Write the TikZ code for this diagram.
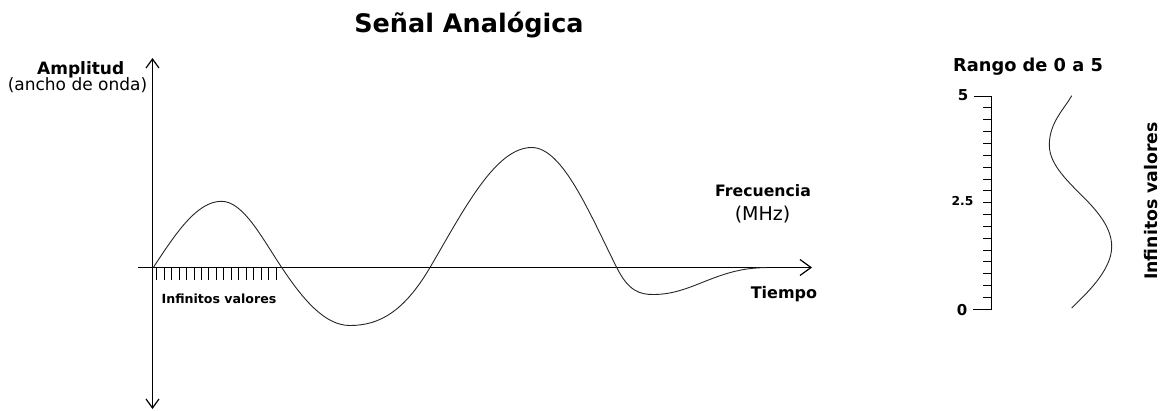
\documentclass[tikz,border=0pt]{standalone}
\usepackage{fontspec}
\setmainfont{DejaVu Sans}
\usetikzlibrary{arrows.meta}

\begin{document}
\begin{tikzpicture}[x=1pt,y=-1pt,>={Straight Barb[length=9pt,width=13pt]}]
  \tikzset{
    boldlabel/.style={font=\bfseries\fontsize{17}{19}\selectfont,inner sep=0pt,anchor=base},
    plainlabel/.style={font=\fontsize{17}{19}\selectfont,inner sep=0pt,anchor=base},
    smalllabel/.style={font=\bfseries\fontsize{12.6}{14}\selectfont,inner sep=0pt,anchor=base},
    axisline/.style={line width=1.2pt},
    waveline/.style={line width=0.9pt,black!85}
  }
  \useasboundingbox (0,0) rectangle (1167,410);

  % title
  \node[boldlabel,font=\bfseries\fontsize{25.5}{28}\selectfont] (title) at (469,32) {Señal Analógica};

  % axes
  \coordinate (ytop) at (152.5,58);
  \coordinate (ybot) at (152.5,409);
  \coordinate (xleft) at (138,267.5);
  \coordinate (xright) at (812,267.5);
  \draw[axisline,<->] (ybot) -- (ytop);
  \draw[axisline,->,>={Straight Barb[length=11pt,width=16pt]}] (xleft) -- (xright);
  \foreach \i in {0,...,16}
    \draw[line width=0.8pt] (156.7+7.45*\i,267.5) -- ++(0,12);

  \node[boldlabel] (amp) at (80.7,74.3) {Amplitud};
  \node[plainlabel] (ampsub) at (77.5,90.5) {(ancho de onda)};
  \node[smalllabel] (infx) at (219,303) {Infinitos valores};
  \node[boldlabel,font=\bfseries\fontsize{15.7}{18}\selectfont] (freq) at (763,196.7) {Frecuencia};
  \node[plainlabel,font=\fontsize{19}{21}\selectfont] (freqsub) at (762.5,220.7) {(MHz)};
  \node[boldlabel,font=\bfseries\fontsize{16}{18}\selectfont] (tiempo) at (784,298.3) {Tiempo};

  % signal
  \draw[waveline] (153.3,267.5)
    .. controls (175.5,233.7) and (196.8,201.3) .. (221.5,201.3)
    .. controls (243.3,201.3) and (262.1,238.1) .. (281.7,267.5)
    .. controls (304,300.9) and (325.3,325.5) .. (350,325.5)
    .. controls (379,325.5) and (403.9,311.9) .. (430,267.5)
    .. controls (463.2,211.1) and (494.9,147.5) .. (531.7,147.5)
    .. controls (562.5,147.5) and (589,212.1) .. (616.7,267.5)
    .. controls (628.6,291.4) and (640,294.5) .. (653.3,294.5)
    .. controls (693,294.5) and (715.7,267.6) .. (766.7,267.6);

  % range scale
  \node[boldlabel,font=\bfseries\fontsize{17.8}{20}\selectfont] (rango) at (1028,71.7) {Rango de 0 a 5};
  \coordinate (stop) at (991.5,96);
  \coordinate (sbot) at (991.5,309.3);
  \draw[line width=1pt] (sbot) -- (stop);
  \draw[line width=1pt] (stop) -- ++(-18,0);
  \draw[line width=1pt] (sbot) -- ++(-18.5,0);
  \foreach \i in {1,...,17}
    \draw[line width=0.9pt] (991.5,96+11.85*\i) -- ++(-8.5,0);
  \node[boldlabel,font=\bfseries\fontsize{15}{17}\selectfont] (five) at (963,100) {5};
  \node[boldlabel,font=\bfseries\fontsize{12.3}{14}\selectfont] (half) at (962.5,205.7) {2.5};
  \node[boldlabel,font=\bfseries\fontsize{15}{17}\selectfont] (zero) at (962,315) {0};

  \draw[waveline] (1071.7,95.7)
    .. controls (1063.7,109.7) and (1049.3,122.8) .. (1049.3,145)
    .. controls (1049.3,163.7) and (1066.1,179.8) .. (1083,196.7)
    .. controls (1099.3,213) and (1111.7,228.6) .. (1111.7,246.7)
    .. controls (1111.7,271.2) and (1083.7,296) .. (1071.7,308);
  \node[boldlabel,font=\bfseries\fontsize{17.3}{19}\selectfont,rotate=90] (infy) at (1157,201) {Infinitos valores};
\end{tikzpicture}
\end{document}
